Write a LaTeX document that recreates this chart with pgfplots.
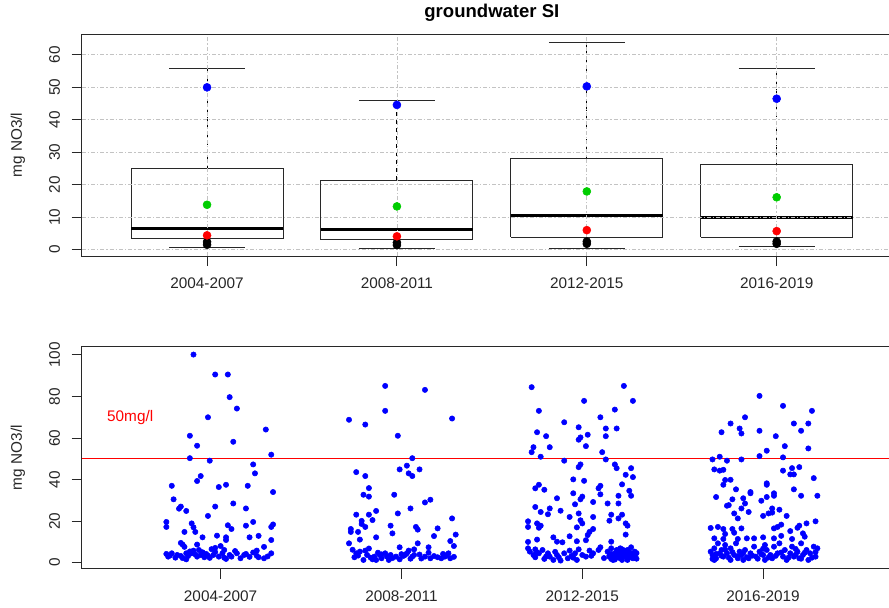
\documentclass[border=0pt]{standalone}
\usepackage{fontspec}
\setmainfont{Liberation Sans}
\usepackage{pgfplots}
\pgfplotsset{compat=1.18}

\definecolor{rgreen}{RGB}{0,205,0}
\definecolor{rgrid}{RGB}{195,195,195}
\definecolor{rframe}{RGB}{40,40,40}
\newcommand\lbl{\fontsize{11.5}{13.5}\selectfont}

\pgfplotsset{
  rpanel/.style={
    scale only axis, width=615.2pt, height=166.5pt,
    axis line style={rframe, line width=0.75pt},
    tick align=outside, major tick length=7.5pt,
    tick style={rframe, line width=0.75pt},
    xtick pos=bottom, ytick pos=left,
    xtick={1,2,3,4},
    xticklabels={2004-2007,2008-2011,2012-2015,2016-2019},
    tick label style={font=\lbl, text=black!85},
    /pgf/number format/assume math mode=true,
    yticklabel style={rotate=90, anchor=south},
    yticklabel shift=5.3pt, xticklabel shift=5.5pt,
    ylabel={mg NO3/l},
    ylabel style={at={(axis description cs:-0.0777,0.5)}, anchor=center, font=\lbl, text=black!85},
    unbounded coords=jump,
  },
}

\begin{document}
\begin{tikzpicture}

% ---- top: boxplots with summary points ----
\begin{axis}[rpanel,
    at={(61.3pt,-192pt)}, anchor=south west,
    xmin=0.34, xmax=4.66, ymin=-1.95, ymax=66.3,
    ytick={0,10,...,60},
    grid=major,
    grid style={rgrid, line width=0.6pt, dash pattern=on 3pt off 1.5pt on 1pt off 1.5pt},
    axis on top,
    title={groundwater SI},
    title style={at={(axis description cs:0.5,1)}, anchor=center, yshift=9.75pt,
                 font=\bfseries\fontsize{13.9}{16}\selectfont},
]
% whiskers
\addplot[black, line width=0.75pt, dash pattern=on 3pt off 3pt] coordinates {
  (1,24.9)(1,55.7)(1,nan)(1,0.7)(1,3.4)(1,nan)
  (2,21.4)(2,45.8)(2,nan)(2,0.4)(2,3.0)(2,nan)
  (3,28.0)(3,63.8)(3,nan)(3,0.3)(3,3.8)(3,nan)
  (4,26.1)(4,55.7)(4,nan)(4,1.0)(4,3.8)
};
% boxes and staples
\addplot[rframe, line width=0.75pt] coordinates {
  (0.6,3.4)(1.4,3.4)(1.4,24.9)(0.6,24.9)(0.6,3.4)(1,nan)
  (0.8,55.7)(1.2,55.7)(1,nan)(0.8,0.7)(1.2,0.7)(1,nan)
  (1.6,3.0)(2.4,3.0)(2.4,21.4)(1.6,21.4)(1.6,3.0)(2,nan)
  (1.8,45.8)(2.2,45.8)(2,nan)(1.8,0.4)(2.2,0.4)(2,nan)
  (2.6,3.8)(3.4,3.8)(3.4,28.0)(2.6,28.0)(2.6,3.8)(3,nan)
  (2.8,63.8)(3.2,63.8)(3,nan)(2.8,0.3)(3.2,0.3)(3,nan)
  (3.6,3.8)(4.4,3.8)(4.4,26.1)(3.6,26.1)(3.6,3.8)(4,nan)
  (3.8,55.7)(4.2,55.7)(4,nan)(3.8,1.0)(4.2,1.0)
};
% medians
\addplot[black, line width=2.25pt] coordinates {
  (0.6,6.5)(1.4,6.5)(1,nan)
  (1.6,6.1)(2.4,6.1)(2,nan)
  (2.6,10.4)(3.4,10.4)(3,nan)
  (3.6,9.9)(4.4,9.9)
};
% summary points
\addplot[only marks, mark=*, mark size=3pt, black] coordinates {
  (1,2.4)(1,1.5)(2,2.2)(2,1.4)(3,2.5)(3,1.8)(4,2.5)(4,1.8)};
\addplot[only marks, mark=*, mark size=3pt, red] coordinates {
  (1,4.4)(2,4.1)(3,6.0)(4,5.7)};
\addplot[only marks, mark=*, mark size=3pt, rgreen] coordinates {
  (1,13.8)(2,13.3)(3,17.9)(4,16.1)};
\addplot[only marks, mark=*, mark size=3pt, blue] coordinates {
  (1,49.9)(2,44.5)(3,50.2)(4,46.4)};
\end{axis}

% ---- bottom: jittered strip chart ----
\begin{axis}[rpanel,
    at={(61.3pt,-426.5pt)}, anchor=south west,
    xmin=0.232, xmax=4.768, ymin=-2.9, ymax=104,
    ytick={0,20,...,100},
]
\addplot[red, line width=0.75pt] coordinates {(0.232,50)(4.768,50)};
\node[red, font=\lbl] at (axis cs:0.5,70) {50mg/l};

\addplot[only marks, mark=*, mark size=2pt, blue] coordinates {
  % 2004-2007
  (0.85,100.2)(0.97,90.6)(1.04,90.6)(1.05,79.7)(1.09,74.2)(0.93,70.0)(1.25,64.1)
  (0.83,61.1)(1.07,58.2)(0.87,56.3)(1.28,52.0)(0.83,50.3)(0.94,49.1)(1.18,47.3)
  (1.19,43.0)(0.89,41.7)(0.87,39.3)(0.73,37.0)(0.99,36.4)(1.03,37.5)(1.15,37.0)
  (1.29,34.0)(0.74,30.5)(1.07,28.5)(0.78,27.0)(0.77,26.0)(0.81,24.9)(0.97,27.0)
  (1.14,26.1)(0.93,22.5)(0.70,19.6)(0.70,17.2)(0.84,18.9)(0.85,17.0)(1.04,18.0)
  (1.06,16.2)(1.14,17.8)(1.18,19.6)(1.28,17.2)(1.29,18.4)(0.80,14.8)(0.86,14.8)
  (0.90,12.2)(0.98,13.0)(1.03,12.2)(1.03,10.9)(1.16,12.2)(1.21,12.9)(1.28,10.9)
  (0.78,9.5)(0.79,8.7)(1.24,7.6)(0.80,7.6)(0.87,8.7)(1.00,8.0)(0.97,7.1)(1.02,6.1)
  (0.70,4.2)(0.71,2.9)(0.73,4.5)(0.75,2.4)(0.76,3.7)(0.81,4.5)(0.81,1.6)(0.82,3.2)
  (0.85,5.8)(0.87,2.9)(0.88,6.1)(0.90,5.0)(0.91,2.6)(0.92,4.2)(0.94,2.3)(0.96,3.7)
  (0.97,5.1)(0.99,2.9)(1.01,4.5)(1.05,3.7)(1.06,2.9)(1.09,4.5)(1.11,2.1)(1.13,3.7)
  (1.14,4.2)(1.20,5.8)(1.20,3.3)(1.21,2.6)(1.24,2.1)(1.28,4.5)(0.78,3.2)(0.84,4.5)
  (0.89,3.7)(0.72,3.5)(0.79,2.2)(0.86,4.0)(0.93,3.4)(0.95,6.5)(1.02,2.4)(1.08,5.6)
  (1.16,2.8)(1.18,4.9)(1.26,3.0)(1.03,1.8)(0.83,5.4)
  % 2008-2011
  (1.91,85.1)(2.13,83.2)(1.91,73.1)(1.71,68.8)(1.80,66.5)(2.28,69.4)(1.98,61.1)
  (2.06,50.3)(2.03,46.7)(1.99,44.9)(2.10,44.9)(2.04,43.0)(2.06,41.7)(1.75,43.6)
  (1.80,41.7)(1.82,35.9)(1.79,32.7)(1.82,31.8)(1.96,32.7)(2.16,30.3)(2.13,29.0)
  (2.05,26.1)(1.86,24.9)(1.75,23.1)(1.82,23.1)(1.98,23.7)(1.84,20.5)(1.78,20.1)
  (1.78,18.6)(1.80,17.2)(2.28,21.3)(1.72,16.2)(1.72,14.8)(1.76,14.8)(1.94,17.8)
  (1.95,14.1)(2.08,17.2)(2.09,15.9)(2.20,16.5)(2.18,12.8)(2.30,13.5)(2.27,10.4)
  (2.29,8.0)(1.71,9.3)(1.77,11.1)(1.86,12.2)(2.09,9.3)(1.99,7.4)(2.15,7.4)
  (2.07,6.4)(1.82,6.8)
  (1.74,2.6)(1.75,4.5)(1.77,5.3)(1.79,1.3)(1.80,5.8)(1.81,3.7)(1.84,1.6)(1.85,2.9)
  (1.86,1.3)(1.88,3.7)(1.89,2.1)(1.91,4.5)(1.92,2.9)(1.93,1.3)(1.94,3.7)(1.97,2.9)
  (1.99,1.6)(2.02,3.7)(2.03,4.5)(2.04,5.8)(2.06,2.9)(2.07,3.7)(2.13,2.9)(2.15,4.8)
  (2.16,2.1)(2.18,3.2)(2.22,2.1)(2.23,4.2)(2.24,2.9)(2.26,4.5)(2.27,2.1)(1.89,4.0)
  (2.01,3.2)(1.76,3.4)(1.83,2.4)(1.87,4.8)(1.95,2.2)(2.00,4.1)(2.05,1.9)(2.10,3.9)
  (2.20,2.6)(2.25,3.6)(2.29,2.8)(2.11,2.0)(1.73,6.2)
  % 2012-2015
  (2.72,84.5)(3.23,85.1)(3.01,77.9)(3.28,77.9)(2.76,73.1)(3.18,73.7)(3.10,70.0)
  (2.90,67.6)(2.98,65.2)(3.13,64.6)(3.19,64.6)(2.75,62.8)(2.80,60.9)(3.03,61.6)
  (2.99,60.3)(2.98,59.2)(3.13,60.9)(2.73,55.6)(2.82,55.6)(3.02,56.1)(2.72,53.2)
  (3.11,53.2)(2.77,51.0)(3.13,49.7)(2.90,49.1)(2.99,47.3)(2.98,46.0)(3.18,47.3)
  (3.19,45.5)(3.27,45.5)(3.24,42.3)(3.28,41.2)(2.95,40.1)(3.01,39.4)(2.76,37.5)
  (2.74,35.8)(2.79,35.1)(3.10,37.0)(3.09,35.8)(3.22,37.7)(3.26,34.6)(3.27,32.2)
  (3.10,32.9)(2.95,33.4)(3.00,31.8)(2.99,30.5)(2.86,31.0)(3.20,32.2)(3.20,28.5)
  (3.06,29.2)(2.96,28.1)(3.14,28.5)(2.74,26.8)(2.82,26.1)(2.77,24.4)(2.81,23.3)
  (2.88,25.0)(2.98,23.7)(3.06,22.0)(2.93,22.0)(3.16,23.1)(3.22,23.1)(3.20,21.3)
  (3.15,20.2)(2.99,20.4)(3.00,18.9)(3.24,18.9)(3.25,17.8)(2.70,19.9)(2.70,17.2)
  (2.75,18.9)(2.77,17.8)(2.76,16.8)(2.97,17.0)(3.06,16.2)(3.04,14.8)(3.03,13.3)
  (3.24,13.5)(2.84,12.2)(2.93,12.7)(2.75,11.1)(3.02,10.8)(3.16,10.1)(2.86,10.1)
  (2.89,9.8)(2.97,10.3)(2.70,10.0)
  (2.70,6.9)(2.71,5.3)(2.73,3.7)(2.74,6.4)(2.74,2.6)(2.76,4.5)(2.78,6.1)(2.79,1.8)
  (2.81,4.5)(2.82,2.9)(2.84,1.3)(2.86,3.7)(2.87,2.6)(2.88,1.0)(2.90,4.5)(2.92,2.1)
  (2.93,5.8)(2.94,3.2)(2.96,4.5)(2.97,1.3)(2.98,6.4)(3.00,3.7)(3.02,2.9)(3.04,5.8)
  (3.06,4.5)(3.09,6.1)(3.10,7.4)(3.14,5.3)(3.15,2.9)(3.16,6.9)(3.17,1.3)(3.18,4.5)
  (3.19,6.1)(3.20,2.6)(3.21,3.7)(3.21,6.9)(3.22,1.3)(3.23,4.8)(3.24,2.9)(3.25,6.1)
  (3.26,3.7)(3.27,7.4)(3.28,2.1)(3.29,5.3)(3.17,3.2)(3.19,4.8)(3.23,3.7)(3.27,4.5)
  (3.21,2.1)(3.25,1.3)(3.29,3.7)(3.16,4.2)
  (3.15,3.4)(3.16,1.8)(3.18,2.4)(3.19,3.9)(3.20,5.2)(3.21,4.4)(3.22,2.7)(3.23,5.9)
  (3.24,4.1)(3.25,2.2)(3.26,5.0)(3.27,2.6)(3.28,4.0)(3.29,2.8)(3.30,4.6)(3.30,1.9)
  (3.18,1.5)(3.22,6.4)(2.75,5.0)(2.80,3.0)(2.85,5.2)(2.95,2.4)(3.05,3.3)(3.12,2.2)
  % 2016-2019
  (3.98,80.3)(4.11,75.5)(4.27,73.1)(3.90,70.0)(3.82,67.0)(4.17,67.0)(4.25,67.0)
  (3.87,64.6)(3.77,62.8)(3.88,62.2)(3.98,63.5)(4.21,63.5)(4.07,60.9)(4.12,56.1)
  (4.25,55.0)(4.02,53.9)(3.98,51.3)(4.11,50.7)(3.72,49.7)(3.76,51.0)(3.80,49.1)
  (3.88,49.7)(3.73,44.9)(3.76,44.3)(3.78,44.7)(4.11,44.3)(4.16,45.5)(4.20,46.0)
  (4.15,42.5)(4.17,42.5)(4.28,40.7)(3.79,39.8)(3.82,39.9)(3.78,37.5)(4.02,38.2)
  (4.02,37.5)(4.17,35.3)(3.85,35.3)(3.93,34.0)(3.93,33.4)(4.06,33.4)(4.06,32.2)
  (3.74,31.6)(4.21,32.2)(4.30,32.2)(3.89,31.0)(4.02,31.6)(3.83,30.5)(3.99,29.8)
  (3.90,28.5)(3.80,27.4)(3.81,27.7)(3.88,26.1)(4.05,26.1)(4.09,25.5)(3.92,24.4)
  (3.84,23.7)(4.03,23.7)(4.00,22.5)(4.05,24.1)(4.13,22.5)(3.86,21.3)(4.29,19.9)
  (4.10,18.3)(4.08,17.2)(4.20,17.8)(4.24,18.9)(3.71,16.7)(3.75,17.2)(3.78,16.2)
  (3.83,16.2)(3.88,16.5)(4.06,16.5)(4.15,15.2)(4.19,16.8)(4.22,14.1)(3.84,14.4)
  (3.79,13.8)(3.73,11.7)(3.78,11.4)(3.86,11.4)(3.91,11.7)(3.95,11.7)(4.00,12.2)
  (4.06,11.7)(4.10,12.9)(4.16,11.4)(4.23,12.5)
  (3.71,5.3)(3.72,3.7)(3.73,6.9)(3.74,2.1)(3.75,9.3)(3.76,4.5)(3.77,6.1)(3.78,2.9)
  (3.79,8.5)(3.80,4.5)(3.82,1.3)(3.82,6.9)(3.84,3.7)(3.85,9.3)(3.86,2.1)(3.87,5.3)
  (3.88,3.7)(3.90,6.1)(3.92,2.1)(3.93,4.5)(3.95,7.7)(3.96,2.9)(3.98,5.3)(4.00,3.7)
  (4.01,1.3)(4.02,6.1)(4.04,3.7)(4.05,2.1)(4.06,7.7)(4.08,4.5)(4.09,9.3)(4.11,2.9)
  (4.12,6.1)(4.13,1.3)(4.15,4.5)(4.16,7.7)(4.17,2.9)(4.19,5.3)(4.20,2.1)(4.21,9.3)
  (4.22,3.7)(4.24,6.1)(4.25,1.3)(4.26,4.5)(4.28,7.7)(4.29,2.9)(4.30,6.9)(3.73,1.3)
  (3.89,1.3)(4.01,8.5)
  (3.72,1.8)(3.74,4.2)(3.77,3.3)(3.81,2.4)(3.83,5.1)(3.86,3.0)(3.89,4.6)(3.91,2.6)
  (3.94,3.4)(3.97,1.9)(3.99,4.1)(4.03,2.5)(4.07,3.3)(4.10,4.9)(4.14,2.4)(4.18,3.8)
  (4.21,1.9)(4.23,4.8)(4.27,2.4)(4.29,5.1)(3.79,6.3)(4.00,6.7)(4.18,6.6)
};
\end{axis}

% the reference is cut off just before the right-hand frame edge
\pgfresetboundingbox
\useasboundingbox (0pt,0pt) rectangle (666.75pt,-455.25pt);
\end{tikzpicture}
\end{document}
